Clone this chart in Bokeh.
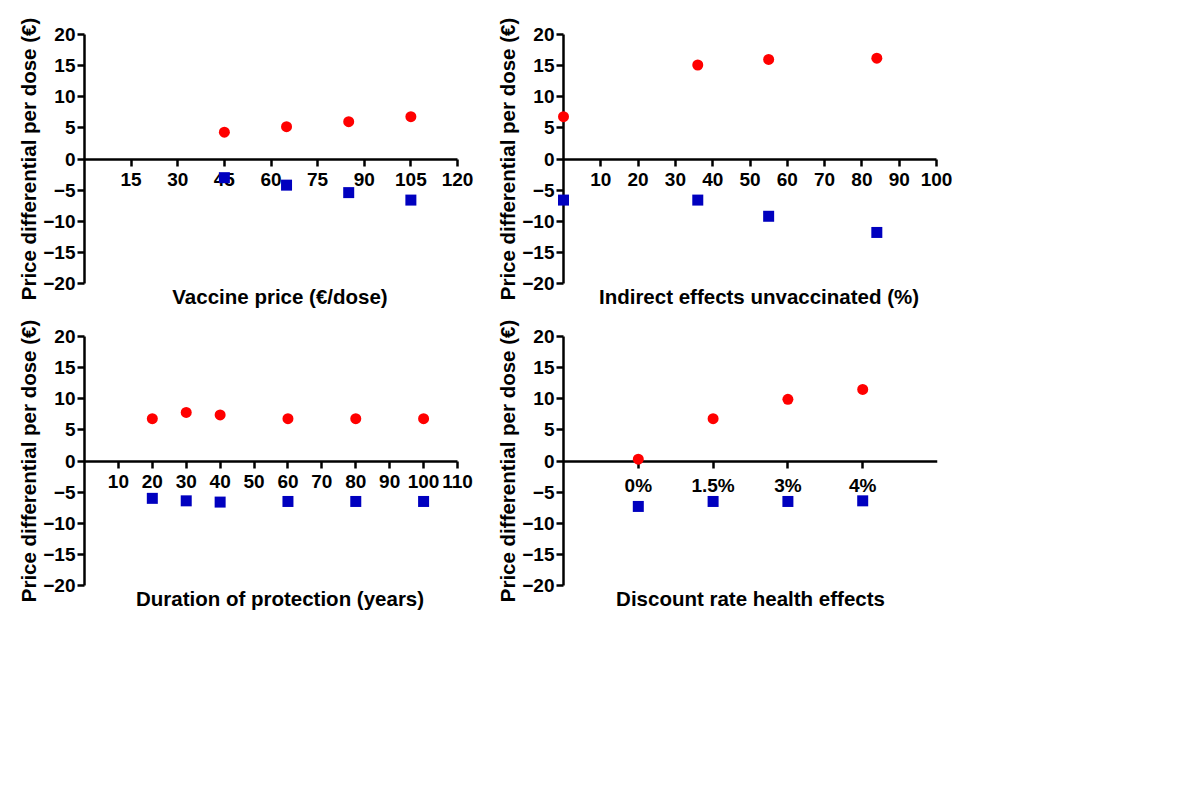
from bokeh.plotting import figure
from bokeh.models import FixedTicker, Title, FactorRange, Range1d
from bokeh.layouts import column, row
from bokeh.embed import file_html
from bokeh.resources import INLINE

# ---- data ----
y_label = "Price differential per dose (€)"
y_ticks = [-20, -15, -10, -5, 0, 5, 10, 15, 20]

# Panel A: vaccine price
price_title = "Vaccine price (€/dose)"
price_x = [45, 65, 85, 105]
price_red = [4.3, 5.2, 6.0, 6.8]
price_blue = [-3.0, -4.2, -5.4, -6.6]
price_ticks = [15, 30, 45, 60, 75, 90, 105, 120]

# Panel B: indirect effects
indirect_title = "Indirect effects unvaccinated (%)"
indirect_x = [0, 36, 55, 84]
indirect_red = [6.8, 15.1, 16.0, 16.2]
indirect_blue = [-6.6, -6.6, -9.2, -11.8]
indirect_ticks = [10, 20, 30, 40, 50, 60, 70, 80, 90, 100]

# Panel C: duration of protection
duration_title = "Duration of protection (years)"
duration_x = [20, 30, 40, 60, 80, 100]
duration_red = [6.8, 7.8, 7.4, 6.8, 6.8, 6.8]
duration_blue = [-6.0, -6.4, -6.6, -6.5, -6.5, -6.5]
duration_ticks = [10, 20, 30, 40, 50, 60, 70, 80, 90, 100, 110]

# Panel D: discount rate
discount_title = "Discount rate health effects"
discount_cats = ["0%", "1.5%", "3%", "4%"]
discount_red = [0.3, 6.8, 9.9, 11.5]
discount_blue = [-7.3, -6.5, -6.5, -6.4]

RED = "#FF0000"
BLUE = "#0000BF"
FONT = "Liberation Sans"
AXIS_W = 373      # drawn length of the x axis (px)
PAD = 18          # extra room right of the axis for the last tick label


def make_panel(xs, red, blue, xticks, title, bl, bt, br, bb, cats=None):
    if cats is None:
        xmax = xticks[-1]
        fw = AXIS_W + PAD
        x_range = Range1d(0, xmax * fw / AXIS_W)
    else:
        fw = AXIS_W + 1
        x_range = FactorRange(factors=cats, range_padding=0.5,
                              range_padding_units="absolute")
    p = figure(x_range=x_range, y_range=Range1d(-20, 20),
               frame_width=fw, frame_height=249,
               min_border_left=bl, min_border_top=bt,
               min_border_right=br, min_border_bottom=bb,
               output_backend="svg", toolbar_location=None,
               background_fill_color="white", border_fill_color="white",
               outline_line_color=None)
    p.grid.visible = False

    xa = p.xaxis[0]
    xa.fixed_location = 0
    if cats is None:
        xa.ticker = FixedTicker(ticks=xticks)
        xa.bounds = (0, xticks[-1])
    ya = p.yaxis[0]
    ya.ticker = FixedTicker(ticks=y_ticks)
    ya.axis_label = y_label
    ya.axis_label_text_font = FONT
    ya.axis_label_text_font_size = "20.5px"
    ya.axis_label_text_font_style = "bold"
    ya.axis_label_text_color = "black"
    ya.axis_label_standoff = 0

    for ax in (xa, ya):
        ax.axis_line_width = 2.5
        ax.axis_line_color = "black"
        ax.major_tick_line_width = 2.5
        ax.major_tick_line_color = "black"
        ax.major_tick_out = 7
        ax.major_tick_in = 0
        ax.minor_tick_out = 0
        ax.minor_tick_in = 0
        ax.major_label_text_font = FONT
        ax.major_label_text_font_size = "19px"
        ax.major_label_text_font_style = "bold"
        ax.major_label_text_color = "black"
    xa.major_label_standoff = 7
    ya.major_label_standoff = 2

    p.add_layout(Title(text=title, align="center", text_font=FONT,
                       text_font_size="20.5px", text_font_style="bold",
                       text_color="black", standoff=-2), "below")

    p.scatter(xs, red, marker="circle", size=11, fill_color=RED,
              line_color=None, level="overlay")
    p.scatter(xs, blue, marker="square", size=11, fill_color=BLUE,
              line_color=None, level="overlay")
    return p


p1 = make_panel(price_x, price_red, price_blue, price_ticks,
                price_title, 84, 34, 4, 36)
p2 = make_panel(indirect_x, indirect_red, indirect_blue, indirect_ticks,
                indirect_title, 84, 34, 30, 36)
p3 = make_panel(duration_x, duration_red, duration_blue, duration_ticks,
                duration_title, 84, 17, 4, 40)
p4 = make_panel(discount_cats, discount_red, discount_blue, None,
                discount_title, 84, 17, 30, 40, cats=discount_cats)

layout = column(row(p1, p2), row(p3, p4))
open("out.html", "w").write(file_html(layout, INLINE))
